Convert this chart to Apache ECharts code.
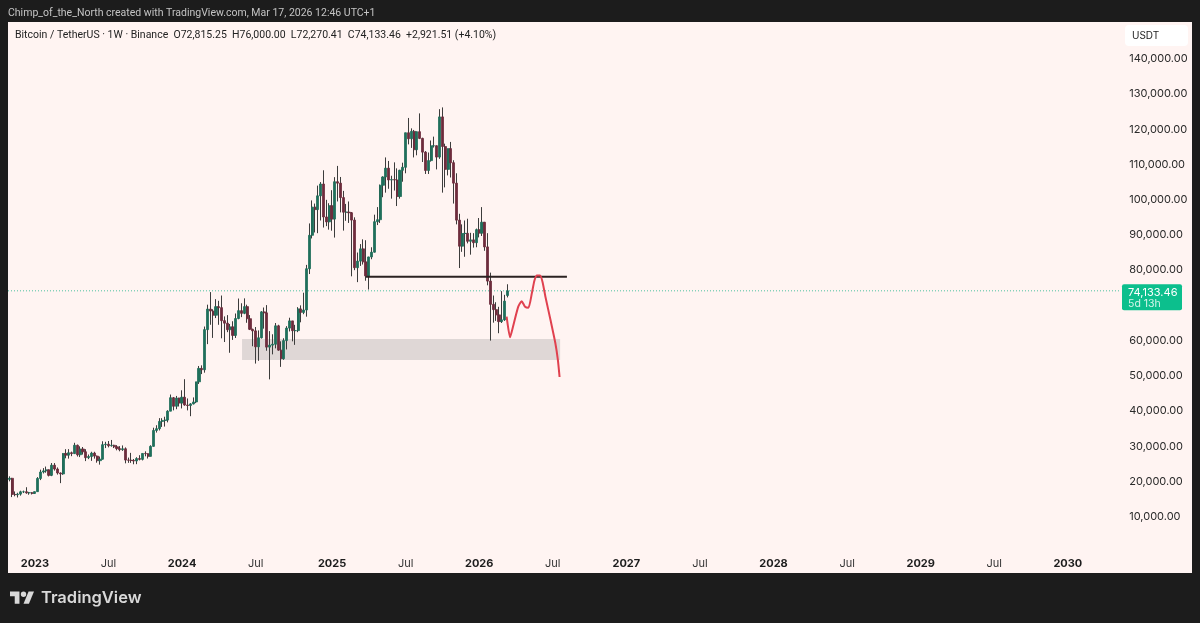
<!DOCTYPE html>
<html>
<head>
<meta charset="utf-8">
<style>html,body{margin:0;padding:0;background:#1c1c1c}#c{width:1200px;height:623px}</style>
<script src="https://cdn.jsdelivr.net/npm/echarts@6/dist/echarts.min.js"></script>
</head>
<body>
<div id="c"></div>
<script>
// Weekly candles, first week 2022-10-31, last week 2026-03-16
const opens=[20627,20923,16329,16280,16428,17090,17100,16775,16840,16618,17127,20870,22700,23025,23323,21770,24640,23550,22430,22156,27970,27490,28170,27940,30300,27590,29230,28450,26780,27100,28080,27230,25920,26340,30460,30590,30170,30290,29860,29350,29050,29300,26100,26050,25970,25830,26520,26300,27970,27910,27150,29990,34500,35000,37060,37350,37450,39970,43790,41370,43700,42280,43930,41730,41580,42030,42580,48300,52100,51730,63120,68950,68390,67210,69640,69360,65660,64950,63100,63900,61480,66270,68500,67750,69650,66220,63210,62770,58250,60800,68160,67880,58160,58720,58970,64200,57300,54870,60000,63560,65600,62820,62850,69000,68000,68700,80400,89900,97900,97200,101100,104450,95100,93700,98300,94500,105100,104700,100600,96450,96460,96300,94220,80700,82560,86050,82350,78370,83750,85100,93750,94320,104100,106450,108950,105600,105700,105600,100900,108350,109200,119000,117300,119400,114200,119300,117400,113500,108300,111100,115300,115320,112100,123500,115100,108600,114500,110500,104700,94200,86800,90400,90450,88200,88600,87800,91500,90500,93600,86600,76900,70300,68800,67300,65400,65900,72815];
const highs=[21480,21053,17190,16820,17394,17425,18387,17060,16970,17176,21258,23371,23816,24255,23450,25250,25250,24000,22600,28000,29185,29200,28500,31000,30500,30000,29800,29180,27670,28450,28450,27400,27100,31430,31280,31500,31800,30450,30330,30050,30250,29690,26800,28140,26400,26900,27480,28000,28580,27980,30300,35280,35980,38000,37980,38400,40250,44700,44000,44300,43800,45900,49050,43580,42250,43880,48300,52800,52980,64000,70200,73777,68900,71770,71300,72800,66870,67240,64730,65500,67700,71950,70600,72000,70200,67250,63380,63860,62900,68370,69400,70079,62700,61800,65000,64500,59800,60670,64100,66500,65600,64480,69500,70000,73600,81500,93265,99800,98900,104000,105000,108353,99960,99000,102700,106400,109588,106450,102500,98800,99500,96500,95000,85000,87400,88750,88500,83800,86500,95750,97900,104300,106660,112000,111000,106800,110600,108900,108500,110500,119000,123200,120250,119800,119300,124500,117600,113800,113400,116800,117900,115400,125700,126200,115900,114500,116400,111200,107500,96000,93000,94100,94600,90600,90500,91800,94800,97900,93700,90500,79300,72800,70900,69600,74050,73000,76000];
const lows=[20048,15588,15815,15476,16000,16733,16528,16256,16333,16500,17089,20407,22292,22500,21451,21530,23100,21971,19549,21900,26600,26500,27200,27800,27100,26942,27660,25800,26360,25870,26500,25350,24800,26240,29500,29700,29900,29500,28860,28585,28700,25166,25300,25300,24900,24930,26000,25990,27160,26530,27130,29900,33900,34500,35500,35600,36800,39970,40200,40530,41300,40750,41500,40200,38550,41880,42260,47700,50500,50900,59000,64500,60770,66400,64490,60660,59600,62400,56550,60200,60750,66050,66670,67500,65060,63000,58400,53485,54260,60600,63400,57122,49000,56100,57800,57120,52550,54560,57490,62600,59800,58800,62400,65200,67500,66800,78900,89000,90700,90500,94100,92100,92500,91500,91200,89250,99500,96400,91230,94000,93400,78250,80000,76600,81200,81600,77000,74500,83100,85000,92800,93400,100700,102000,103100,100300,102600,98200,100300,105100,107500,115700,114700,112000,112600,117200,110700,107300,107300,110800,114800,108600,111600,102000,103500,106900,106300,98900,93000,80600,85200,83800,87600,84400,86400,86500,89300,89700,85500,75700,60000,65100,65600,62100,65000,65600,72270];
const closes=[20923,16329,16280,16428,17090,17100,16775,16840,16618,17127,20870,22700,23025,23323,21770,24640,23550,22430,22156,27970,27490,28170,27940,30300,27590,29230,28450,26780,27100,28080,27230,25920,26340,30460,30590,30170,30290,29860,29350,29050,29300,26100,26050,25970,25830,26520,26300,27970,27910,27150,29990,34500,35000,37060,37350,37450,39970,43790,41370,43700,42280,43930,41730,41580,42030,42580,48300,52100,51730,63120,68950,68390,67210,69640,69360,65660,64950,63100,63900,61480,66270,68500,67750,69650,66220,63210,62770,58250,60800,68160,67880,58160,58720,58970,64200,57300,54870,60000,63560,65600,62820,62850,69000,68000,68700,80400,89900,97900,97200,101100,104450,95100,93700,98300,94500,105100,104700,100600,96450,96460,96300,94220,80700,82560,86050,82350,78370,83750,85100,93750,94320,104100,106450,108950,105600,105700,105600,100900,108350,109200,119000,117300,119400,114200,119300,117400,113500,108300,111100,115300,115320,112100,123500,115100,108600,114500,110500,104700,94200,86800,90400,90450,88200,88600,87800,91500,90500,93600,86600,76900,70300,68800,67300,65400,65900,71212,74133.46];

// Time-scale labels: week index and text
const tickWeeks=[9,35,61,87,114,140,166,192,218,244,270,296,322,348,374];
const tickTexts=['2023','Jul','2024','Jul','2025','Jul','2026','Jul','2027','Jul','2028','Jul','2029','Jul','2030'];
const totalWeeks=393;

// Price axis
const priceMin=0, priceMax=150000, priceStep=10000;
const hiddenPrices=[0,70000,150000];

// Drawings, in weeks from the left edge of the plot
const zoneWeeks=[82.7,195.1], zonePrices=[60460,54500];
const levelWeeks=[126.5,197.5], levelPrice=78100;
const pathWeeks=[176.2,177.4,178.6,180.3,181.5,182.7,183.9,185.1,186.0,186.9,188.0,188.9,189.9,191.7,193.4,194.3,194.9];
const pathPrices=[66790,60940,64430,69630,71160,69630,69350,73430,77000,78490,78490,76600,72470,65850,59320,54500,49670];
const lastClose=74133.46;

const UI='Inter, "Noto Sans", sans-serif';
const HEAD='Roboto, "Noto Sans", sans-serif';
const categories=[];
for(let i=0;i<totalWeeks;i++){categories.push('W'+i);}
const wickData=opens.map((o,i)=>[o,closes[i],lows[i],highs[i]]);
const bodyData=opens.map((o,i)=>[o,closes[i],Math.min(o,closes[i]),Math.max(o,closes[i])]);
const up='#1f6f5b', down='#6d2c3c', wick='#3c3c3c';
const markColor='#d9d9d9';

const chart=echarts.init(document.getElementById('c'),null,{renderer:'canvas'});
chart.setOption({
  animation:false,
  backgroundColor:'#1c1c1c',
  grid:{left:8,width:1112.2,top:23.55,height:528.45,containLabel:false},
  xAxis:[
    {type:'category',data:categories,boundaryGap:true,
     axisLine:{show:false},axisTick:{show:false},splitLine:{show:false},
     axisLabel:{show:true,margin:6,interval:(i)=>tickWeeks.includes(i),hideOverlap:false,
       fontFamily:UI,fontSize:11,color:'#333',
       formatter:(v,i)=>{const k=tickWeeks.indexOf(i);if(k<0)return '';const t=tickTexts[k];return t==='Jul'?t:'{y|'+t+'}';},
       rich:{y:{fontFamily:UI,fontSize:11,fontWeight:700,color:'#1d1d1d'}}}},
    {type:'value',min:0,max:totalWeeks,show:false,splitLine:{show:false}}
  ],
  yAxis:{type:'value',position:'right',min:priceMin,max:priceMax,interval:priceStep,
    axisLine:{show:false},axisTick:{show:false},splitLine:{show:false},
    axisLabel:{margin:9,fontFamily:UI,fontSize:11,color:'#2a2a2a',showMinLabel:true,showMaxLabel:true,
      formatter:(v)=>hiddenPrices.includes(v)?'':v.toLocaleString('en-US',{minimumFractionDigits:2,maximumFractionDigits:2})}},
  series:[
    {name:'zone',type:'line',xAxisIndex:1,data:[],z:1,silent:true,
     markArea:{silent:true,itemStyle:{color:'#dfd7d6'},
       data:[[{xAxis:zoneWeeks[0],yAxis:zonePrices[0]},{xAxis:zoneWeeks[1],yAxis:zonePrices[1]}]]}},
    {name:'last',type:'line',xAxisIndex:1,symbol:'none',silent:true,z:2,
     data:[[0,lastClose],[totalWeeks,lastClose]],
     lineStyle:{color:'#22b58c',width:1,type:[1,2],opacity:.8}},
    {name:'wicks',type:'candlestick',barWidth:1,data:wickData,z:3,silent:true,
     itemStyle:{color:wick,color0:wick,borderColor:wick,borderColor0:wick,borderWidth:1}},
    {name:'bodies',type:'candlestick',barWidth:2.6,data:bodyData,z:4,silent:true,
     itemStyle:{color:up,color0:down,borderColor:up,borderColor0:down,borderWidth:.8}},
    {name:'level',type:'line',xAxisIndex:1,symbol:'none',silent:true,z:5,
     data:[[levelWeeks[0],levelPrice],{value:[levelWeeks[1],levelPrice],
       label:{show:true,formatter:'1w',position:'top',offset:[-10,0],fontFamily:UI,fontSize:8.5,color:'#444',distance:2}}],
     lineStyle:{color:'#2b2222',width:2}},
    {name:'path',type:'line',xAxisIndex:1,symbol:'none',silent:true,z:6,smooth:.2,
     data:pathWeeks.map((w,i)=>[w,pathPrices[i]]),
     lineStyle:{color:'#e0414f',width:2}}
  ]
});
const tagY=chart.convertToPixel({yAxisIndex:0},lastClose);
// TradingView mark, drawn from three simple shapes
const mx=(v)=>10+v*0.676, my=(v)=>591.5+(v-4)*0.676;
chart.setOption({graphic:[
  {type:'rect',z:0,silent:true,shape:{x:8,y:22,width:1184,height:551},style:{fill:'#fff4f2'}},
  {type:'text',z:100,x:8,y:7.5,style:{text:'Chimp_of_the_North created with TradingView.com, Mar 17, 2026 12:46 UTC+1',fill:'#c4c4c4',font:'10.5px '+HEAD}},
  {type:'text',z:100,x:15,y:29.5,style:{text:'Bitcoin / TetherUS · 1W · Binance  O72,815.25  H76,000.00  L72,270.41  C74,133.46  +2,921.51 (+4.10%)',fill:'#222',font:'10.5px '+HEAD}},
  {type:'rect',z:100,shape:{x:1125,y:25,width:63,height:21,r:4},style:{fill:'#ffffff'}},
  {type:'text',z:101,x:1132,y:31,style:{text:'USDT',fill:'#222',font:'10px '+UI}},
  {type:'rect',z:100,shape:{x:1122,y:tagY-6.5,width:60,height:26,r:2},style:{fill:'#0cbf8d'}},
  {type:'text',z:101,x:1128,y:tagY-4,style:{text:'74,133.46',fill:'#ffffff',font:'11px '+UI}},
  {type:'text',z:101,x:1128,y:tagY+7.5,style:{text:'5d 13h',fill:'#d6f5ea',font:'10.5px '+UI}},
  {type:'polygon',z:100,shape:{points:[[14,22],[7,22],[7,11],[0,11],[0,4],[14,4]].map(p=>[mx(p[0]),my(p[1])])},style:{fill:markColor}},
  {type:'polygon',z:100,shape:{points:[[28,22],[20,22],[27.5,4],[35.5,4]].map(p=>[mx(p[0]),my(p[1])])},style:{fill:markColor}},
  {type:'circle',z:100,shape:{cx:mx(20),cy:my(8),r:2.7},style:{fill:markColor}},
  {type:'text',z:100,x:41,y:589.5,style:{text:'TradingView',fill:markColor,font:'600 16.5px '+UI}}
]});
</script>
</body>
</html>
